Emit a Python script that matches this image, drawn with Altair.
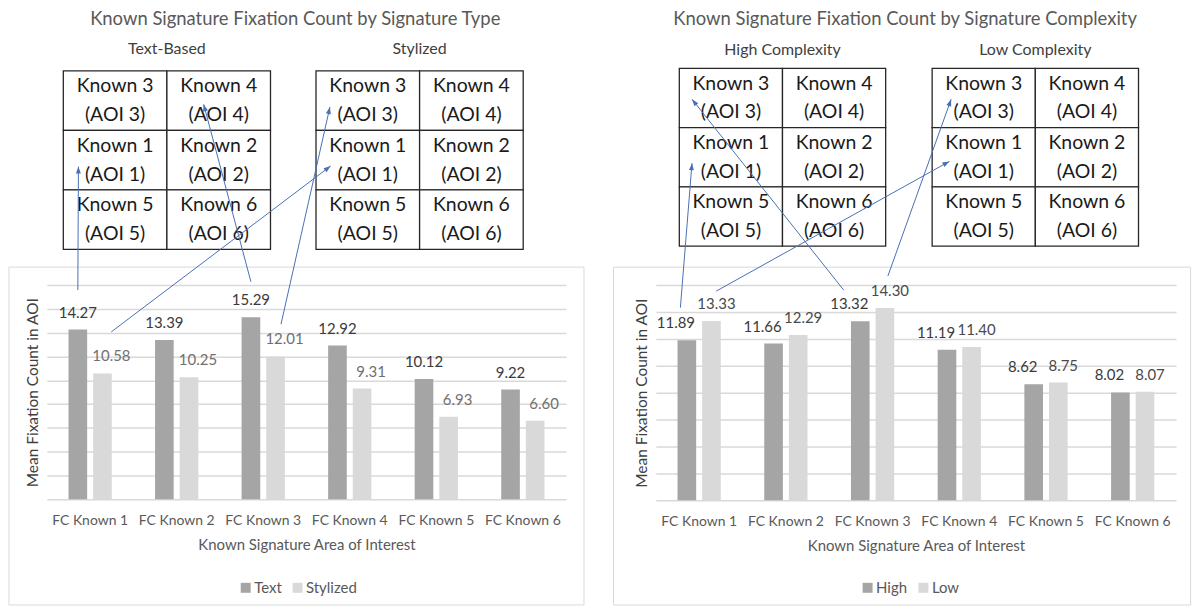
import math
import altair as alt
import pandas as pd

# ---------------- data ----------------
CATEGORIES = ["FC Known 1", "FC Known 2", "FC Known 3", "FC Known 4", "FC Known 5", "FC Known 6"]
TEXT_BASED = [14.27, 13.39, 15.29, 12.92, 10.12, 9.22]
STYLIZED = [10.58, 10.25, 12.01, 9.31, 6.93, 6.60]
HIGH = [11.89, 11.66, 13.32, 11.19, 8.62, 8.02]
LOW = [13.33, 12.29, 14.30, 11.40, 8.75, 8.07]
AOI_ROWS = [[3, 4], [1, 2], [5, 6]]          # AOI grid, top row first

FONT = "Lato"
BLUE = "#4a6fb5"
PAD_INNER, PAD_OUTER = 0.5, 0.25
BAR_W, BAR_GAP = 18.7, 6.0                    # px
HALF_STEP = (BAR_W + BAR_GAP) / 2

# ---------------- layout (annotation positions in category / value units) ----------------
PANELS = [
    dict(title="Known Signature Fixation Count by Signature Type",
         series=["Text", "Stylized"], values=[TEXT_BASED, STYLIZED],
         grid_titles=["Text-Based", "Stylized"],
         width=521, height=215, ymax=18,
         colors=["#a5a5a5", "#d9d9d9"], label_colors=["#3a3a3a", "#707070"], label_dx=[0, 9],
         grids=[(0.19, 36.0), (3.11, 36.0)], cell=(1.197, 5.0),
         title_at=(2.87, 40.35), subtitle_y=37.8, box=(-0.438, 6.207, 19.51, -8.87),
         legend=(192, 296),
         # (category, series, tail dx px, tail gap px, grid, AOI, fx, fy)
         arrows=[(0, 0, 0, 39.5, 0, 1, 0.146, 0.39),
                 (0, 1, 8.9, 41.7, 1, 1, 0.141, 0.40),
                 (2, 0, 0, 35.7, 0, 4, 0.355, 0.436),
                 (2, 1, 5.5, 32.3, 1, 3, 0.134, 0.39)]),
    dict(title="Known Signature Fixation Count by Signature Complexity",
         series=["High", "Low"], values=[HIGH, LOW],
         grid_titles=["High Complexity", "Low Complexity"],
         width=522, height=216, ymax=16,
         colors=["#a5a5a5", "#d9d9d9"], label_colors=["#3a3a3a", "#4a4a4a"], label_dx=[-11, 5],
         grids=[(0.271, 32.1), (3.187, 32.1)], cell=(1.19, 4.4),
         title_at=(2.875, 35.78), subtitle_y=33.48, box=(-0.488, 6.168, 17.33, -7.78),
         legend=(205, 296),
         arrows=[(0, 0, -6.5, 32.8, 0, 1, 0.123, 0.40),
                 (0, 1, 4.8, 30.0, 1, 1, 0.167, 0.43),
                 (2, 0, -16.5, 31.0, 0, 3, 0.123, 0.48),
                 (2, 1, 3.0, 32.0, 1, 3, 0.184, 0.48)]),
]


def panel(p):
    W, H, ymax = p["width"], p["height"], p["ymax"]
    xpu, ypu = W / len(CATEGORIES), H / ymax
    series = p["series"]

    def ux(f):
        return alt.X(f"{f}:Q", scale=alt.Scale(domain=[0, len(CATEGORIES)], nice=False, zero=False), axis=None)

    def uy(f):
        return alt.Y(f"{f}:Q", scale=alt.Scale(domain=[0, ymax], nice=False, zero=False), axis=None)

    # ---- bars ----
    rows = []
    for s, vals in zip(series, p["values"]):
        for c, v in zip(CATEGORIES, vals):
            rows.append({"category": c, "series": s, "value": v})
    df = pd.DataFrame(rows)

    x_enc = alt.X("category:N", sort=CATEGORIES,
                  scale=alt.Scale(paddingInner=PAD_INNER, paddingOuter=PAD_OUTER),
                  axis=alt.Axis(title="Known Signature Area of Interest", labelAngle=0, labelFontSize=14,
                                labelColor="#595959", ticks=False, tickSize=0, domain=False,
                                labelPadding=14, titlePadding=10, titleFontSize=15,
                                titleColor="#595959", titleFontWeight="normal", grid=False))
    y_enc = alt.Y("value:Q", scale=alt.Scale(domain=[0, ymax], nice=False),
                  axis=alt.Axis(values=list(range(0, ymax + 1, 2)), labels=False, ticks=False,
                                domain=False, grid=True, gridColor="#d9d9d9", gridWidth=1.5,
                                title="Mean Fixation Count in AOI", titleFontSize=15.5,
                                titleColor="#404040", titleFontWeight="normal", titlePadding=6))
    c_enc = alt.Color("series:N", sort=series,
                      scale=alt.Scale(domain=series, range=p["colors"]),
                      legend=alt.Legend(orient="none", legendX=p["legend"][0], legendY=p["legend"][1],
                                        direction="horizontal", columns=2, title=None,
                                        symbolType="square", symbolSize=100, symbolStrokeWidth=0,
                                        labelFontSize=15, labelColor="#595959",
                                        columnPadding=8, labelOffset=1, padding=0))
    bar_layers = []
    for si, s in enumerate(series):
        off = (si - 0.5) * 2 * HALF_STEP
        b = alt.Chart(df).transform_filter(alt.datum.series == s).encode(x=x_enc, y=y_enc)
        bar_layers.append(b.mark_bar(width=BAR_W, xOffset=off).encode(color=c_enc))
        bar_layers.append(b.mark_text(baseline="middle", dy=-17, dx=off + p["label_dx"][si],
                                      fontSize=15, color=p["label_colors"][si])
                          .encode(text=alt.Text("value:Q", format=".2f")))
    inner = alt.layer(*bar_layers)

    # ---- panel frame ----
    bx0, bx1, by0, by1 = p["box"]
    box = alt.Chart(pd.DataFrame([{"x0": bx0, "x1": bx1, "y0": by0, "y1": by1}])).mark_rect(
        fillOpacity=0, stroke="#d9d9d9", strokeWidth=1
    ).encode(x=ux("x0"), x2="x1", y=uy("y0"), y2="y1")

    # ---- AOI grids ----
    cw, rh = p["cell"]
    cells = []
    for g, (gx, gy) in enumerate(p["grids"]):
        for r, row in enumerate(AOI_ROWS):
            for c, n in enumerate(row):
                x0, y0 = gx + c * cw, gy - r * rh
                cells.append({"grid": g, "aoi": n, "x0": x0, "x1": x0 + cw, "y0": y0, "y1": y0 - rh,
                              "cx": x0 + cw / 2, "cy": y0 - rh / 2,
                              "l1": f"Known {n}", "l2": f"(AOI {n})"})
    cdf = pd.DataFrame(cells)
    cell_rects = alt.Chart(cdf).mark_rect(fill="white", stroke="#262626", strokeWidth=1.3).encode(
        x=ux("x0"), x2="x1", y=uy("y0"), y2="y1")
    cell_t1 = alt.Chart(cdf).mark_text(fontSize=19.5, dy=-14.5, color="#1a1a1a").encode(
        x=ux("cx"), y=uy("cy"), text="l1:N")
    cell_t2 = alt.Chart(cdf).mark_text(fontSize=19.5, dy=14.5, color="#1a1a1a").encode(
        x=ux("cx"), y=uy("cy"), text="l2:N")

    # ---- titles ----
    tx, ty = p["title_at"]
    tdf = pd.DataFrame([{"x": tx, "y": ty, "t": p["title"]}])
    title = alt.Chart(tdf).mark_text(fontSize=18.5, color="#595959").encode(
        x=ux("x"), y=uy("y"), text="t:N")
    sdf = pd.DataFrame([{"x": gx + cw, "y": p["subtitle_y"], "t": t}
                        for (gx, gy), t in zip(p["grids"], p["grid_titles"])])
    subtitles = alt.Chart(sdf).mark_text(fontSize=16, color="#404040").encode(
        x=ux("x"), y=uy("y"), text="t:N")

    # ---- arrows ----
    arr = []
    for (ci, si, tdx, gap, g, n, fx, fy) in p["arrows"]:
        off = (si - 0.5) * 2 * HALF_STEP
        xt = ci + 0.5 + (off + tdx) / xpu
        yt = p["values"][si][ci] + gap / ypu
        cell = next(cc for cc in cells if cc["grid"] == g and cc["aoi"] == n)
        xh = cell["x0"] + fx * cw
        yh = cell["y1"] + fy * rh
        dxp = (xh - xt) * xpu
        dyp = -(yh - yt) * ypu
        ang = math.degrees(math.atan2(dxp, -dyp)) % 360
        arr.append({"xt": xt, "yt": yt, "xh": xh, "yh": yh, "ang": ang})
    adf = pd.DataFrame(arr)
    lines = alt.Chart(adf).mark_rule(color=BLUE, strokeWidth=1).encode(
        x=ux("xt"), y=uy("yt"), x2="xh", y2="yh")
    heads = alt.Chart(adf).mark_point(
        shape="M0,0L1,2.8L-1,2.8Z", filled=True, size=25, color=BLUE, opacity=1, strokeWidth=0
    ).encode(x=ux("xh"), y=uy("yh"), angle=alt.Angle("ang:Q", scale=None))

    return alt.layer(box, inner, cell_rects, cell_t1, cell_t2, title, subtitles, lines, heads).properties(
        width=W, height=H
    ).resolve_scale(x="independent", y="independent")


chart = alt.hconcat(*[panel(p) for p in PANELS], spacing=28).resolve_scale(
    color="independent"
).properties(padding=0, background="white").configure(font=FONT).configure_view(stroke=None)

chart.save("out.html", embed_options={"renderer": "svg", "actions": False})
